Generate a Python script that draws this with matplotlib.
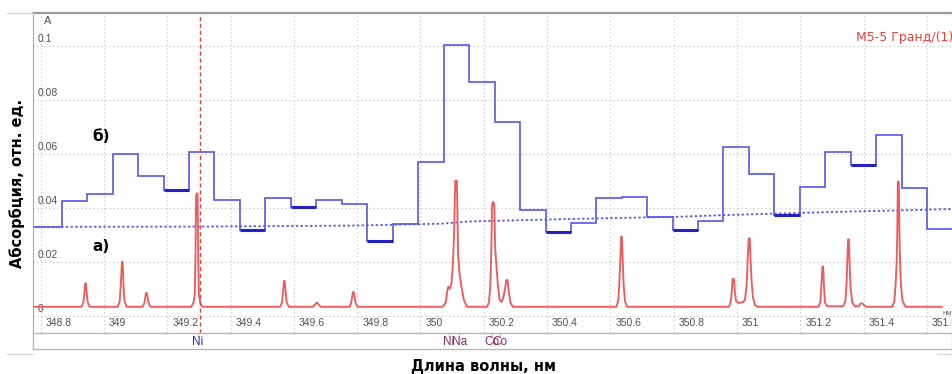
import numpy as np
import matplotlib
matplotlib.use("Agg")
import matplotlib.pyplot as plt
from matplotlib.transforms import ScaledTranslation
from matplotlib.lines import Line2D

# ---------------- data ----------------
# blue step spectrum (б): bin edges (nm) and bin values
bin_edges = [348.776, 348.867, 348.947, 349.028, 349.108, 349.189, 349.269, 349.349,
             349.430, 349.510, 349.591, 349.671, 349.751, 349.832, 349.912, 349.993,
             350.073, 350.153, 350.234, 350.314, 350.395, 350.475, 350.555, 350.636,
             350.716, 350.797, 350.877, 350.957, 351.038, 351.118, 351.199, 351.279,
             351.359, 351.440, 351.520, 351.601, 351.679]
bin_values = [0.0330, 0.0426, 0.0450, 0.0600, 0.0520, 0.0467, 0.0607, 0.0430,
              0.0320, 0.0437, 0.0404, 0.0430, 0.0415, 0.0278, 0.0340, 0.0570,
              0.1004, 0.0867, 0.0719, 0.0393, 0.0311, 0.0344, 0.0437, 0.0441,
              0.0367, 0.0319, 0.0352, 0.0626, 0.0526, 0.0374, 0.0478, 0.0607,
              0.0559, 0.0670, 0.0474, 0.0322]
# bins drawn emphasised (darker, thicker)
thick_bins = [5, 8, 10, 13, 20, 25, 29, 32]

# dotted blue baseline
base_wl = [348.776, 349.30, 349.80, 350.07, 350.15, 350.50, 350.80, 351.00, 351.30, 351.679]
base_abs = [0.0330, 0.0331, 0.0335, 0.0342, 0.0350, 0.0360, 0.0367, 0.0375, 0.0385, 0.0396]

# red high-resolution spectrum (а)
red_wl = [348.776,
          348.929, 348.935, 348.938, 348.941, 348.943, 348.946, 348.949, 348.955,
          349.044, 349.050, 349.053, 349.057, 349.059, 349.062, 349.065, 349.072,
          349.122, 349.128, 349.131, 349.133, 349.135, 349.138, 349.141, 349.147,
          349.276, 349.283, 349.287, 349.289, 349.291, 349.293, 349.296, 349.298, 349.300, 349.305, 349.312,
          349.557, 349.563, 349.566, 349.569, 349.571, 349.574, 349.577, 349.584,
          349.660, 349.667, 349.671, 349.674, 349.678, 349.685,
          349.776, 349.781, 349.784, 349.787, 349.789, 349.792, 349.795, 349.801,
          350.070, 350.080, 350.085, 350.088, 350.092, 350.098, 350.102, 350.106, 350.110, 350.115,
          350.119, 350.124, 350.130, 350.137, 350.147,
          350.210, 350.216, 350.220, 350.223, 350.226, 350.229, 350.233, 350.236, 350.240, 350.244,
          350.250, 350.256, 350.262, 350.267, 350.271, 350.275, 350.279, 350.284, 350.292,
          350.619, 350.625, 350.628, 350.631, 350.634, 350.636, 350.639, 350.642, 350.646, 350.653,
          350.974, 350.980, 350.983, 350.986, 350.990, 350.993, 350.997, 351.005, 351.012,
          351.018, 351.025, 351.030, 351.034, 351.037, 351.040, 351.043, 351.046, 351.050, 351.057, 351.065,
          351.257, 351.263, 351.266, 351.270, 351.272, 351.275, 351.278, 351.285,
          351.335, 351.342, 351.346, 351.349, 351.351, 351.353, 351.356, 351.359, 351.364, 351.372,
          351.384, 351.390, 351.396, 351.402, 351.410,
          351.490, 351.497, 351.501, 351.504, 351.506, 351.508, 351.511, 351.513, 351.515, 351.518, 351.523, 351.532,
          351.647]
red_abs = [0.0034,
           0.0034, 0.0050, 0.0080, 0.0121, 0.0121, 0.0080, 0.0050, 0.0034,
           0.0034, 0.0055, 0.0110, 0.0201, 0.0201, 0.0110, 0.0055, 0.0034,
           0.0034, 0.0048, 0.0070, 0.0086, 0.0086, 0.0070, 0.0048, 0.0034,
           0.0034, 0.0050, 0.0080, 0.0200, 0.0440, 0.0454, 0.0450, 0.0200, 0.0080, 0.0045, 0.0034,
           0.0034, 0.0052, 0.0090, 0.0130, 0.0130, 0.0090, 0.0052, 0.0034,
           0.0034, 0.0042, 0.0049, 0.0049, 0.0042, 0.0034,
           0.0034, 0.0048, 0.0070, 0.0089, 0.0089, 0.0070, 0.0048, 0.0034,
           0.0034, 0.0050, 0.0095, 0.0109, 0.0100, 0.0120, 0.0183, 0.0300, 0.0501, 0.0501,
           0.0226, 0.0150, 0.0105, 0.0060, 0.0034,
           0.0034, 0.0050, 0.0100, 0.0200, 0.0410, 0.0423, 0.0415, 0.0250, 0.0183, 0.0120,
           0.0060, 0.0052, 0.0070, 0.0100, 0.0133, 0.0133, 0.0090, 0.0050, 0.0034,
           0.0034, 0.0060, 0.0120, 0.0200, 0.0294, 0.0294, 0.0200, 0.0110, 0.0055, 0.0034,
           0.0034, 0.0050, 0.0090, 0.0137, 0.0137, 0.0090, 0.0055, 0.0048, 0.0050,
           0.0050, 0.0060, 0.0110, 0.0220, 0.0288, 0.0288, 0.0200, 0.0130, 0.0070, 0.0040, 0.0034,
           0.0034, 0.0050, 0.0110, 0.0183, 0.0183, 0.0100, 0.0050, 0.0036,
           0.0036, 0.0055, 0.0120, 0.0230, 0.0284, 0.0284, 0.0180, 0.0100, 0.0050, 0.0036,
           0.0036, 0.0046, 0.0047, 0.0038, 0.0034,
           0.0034, 0.0055, 0.0120, 0.0196, 0.0300, 0.0497, 0.0497, 0.0300, 0.0196, 0.0110, 0.0055, 0.0034,
           0.0034]

ni_line = 349.303

x_ticks = [348.8, 349.0, 349.2, 349.4, 349.6, 349.8, 350.0, 350.2, 350.4, 350.6,
           350.8, 351.0, 351.2, 351.4, 351.6]
x_tick_labels = ["348.8", "349", "349.2", "349.4", "349.6", "349.8", "350", "350.2",
                 "350.4", "350.6", "350.8", "351", "351.2", "351.4", "351.6"]
y_ticks = [0.0, 0.02, 0.04, 0.06, 0.08, 0.1]
y_tick_labels = ["0", "0.02", "0.04", "0.06", "0.08", "0.1"]

element_labels = ["Ni", "Ni", "Na", "Co", "Co"]
element_pos = [349.297, 350.090, 350.122, 350.226, 350.250]
element_colors = ["#2424c8", "#8a2a5a", "#8a2a5a", "#8a2a5a", "#8a2a5a"]

xlim = (348.776, 351.679)
ylim = (-0.0063, 0.1122)

# ---------------- figure ----------------
W, H = 953, 374
fig = plt.figure(figsize=(W / 100, H / 100), dpi=100)

def fx(px):
    return px / W

def fy(py):
    return 1 - py / H

ax = fig.add_axes([fx(33), fy(333), fx(952) - fx(33), fy(13) - fy(333)])
ax.set_xlim(*xlim)
ax.set_ylim(*ylim)

ax.grid(True, color="#c4c4c4", linestyle=(0, (1, 2.2)), linewidth=0.9)
ax.set_axisbelow(True)

# blue dotted baseline
ax.plot(base_wl, base_abs, color="#5a5ae0", linestyle=(0, (1.3, 1.3)), linewidth=1.3)
# blue steps
ax.stairs(bin_values, bin_edges, color="#5c5cec", linewidth=1.25, baseline=None)
ax.hlines([bin_values[i] for i in thick_bins],
          [bin_edges[i] for i in thick_bins],
          [bin_edges[i + 1] for i in thick_bins],
          color="#2323c4", linewidth=2.2)
# red spectrum
ax.plot(red_wl, red_abs, color="#ef5b5b", linewidth=1.35)
# red dashed marker line
ax.axvline(ni_line, color="#e64444", linestyle=(0, (3, 2)), linewidth=1.0)

# ticks inside
ax.set_xticks(x_ticks)
ax.set_xticklabels(x_tick_labels)
ax.set_yticks(y_ticks)
ax.set_yticklabels(y_tick_labels)
ax.tick_params(axis="x", length=0, pad=-11, labelsize=7.5, labelcolor="#505050")
ax.tick_params(axis="y", length=0, pad=-3.6, labelsize=7.5, labelcolor="#505050")
for lbl in ax.get_xticklabels():
    lbl.set_fontfamily("Liberation Sans")
    lbl.set_horizontalalignment("left")
    lbl.set_transform(lbl.get_transform() + ScaledTranslation(5 / 100, 0, fig.dpi_scale_trans))
for lbl in ax.get_yticklabels():
    lbl.set_fontfamily("Liberation Sans")
    lbl.set_horizontalalignment("left")
    lbl.set_verticalalignment("bottom")
    lbl.set_transform(lbl.get_transform() + ScaledTranslation(0, 2 / 100, fig.dpi_scale_trans))

ax.spines["top"].set_color("#9a9a9a")
ax.spines["top"].set_linewidth(1.6)
ax.spines["left"].set_color("#a8a8a8")
ax.spines["right"].set_color("#c8c8c8")
ax.spines["bottom"].set_color("#b8b8b8")

ax.text(0.012, 0.99, "A", transform=ax.transAxes, fontsize=8, color="#505050",
        family="Liberation Sans", ha="left", va="top")
ax.text(0.065, 0.615, "б)", transform=ax.transAxes, fontsize=11, fontweight="bold",
        family="DejaVu Sans", ha="left", va="center")
ax.text(0.065, 0.27, "а)", transform=ax.transAxes, fontsize=11, fontweight="bold",
        family="DejaVu Sans", ha="left", va="center")
fig.text(fx(856), fy(38), "M5-5 Гранд/(1)", fontsize=9, color="#e8403a",
         family="DejaVu Sans", ha="left", va="center")
ax.text(1.0, 0.06, "нм", transform=ax.transAxes, fontsize=5.5, color="#707070",
        family="Liberation Sans", ha="right", va="center")

# element strip
sx = fig.add_axes([fx(33), fy(349), fx(952) - fx(33), fy(333) - fy(349)])
sx.set_xlim(*xlim)
sx.set_ylim(0, 1)
sx.set_xticks([])
sx.set_yticks([])
for s in sx.spines.values():
    s.set_color("#b8b8b8")
    s.set_linewidth(1.0)
for lab, pos, col in zip(element_labels, element_pos, element_colors):
    sx.text(pos, 0.45, lab, color=col, fontsize=8.5, family="Liberation Sans",
            ha="center", va="center")
    sx.vlines(pos, 0.75, 1.0, color="#9a9a9a", linestyle=(0, (1, 1)), linewidth=0.8)

# faint outer frame stubs
for (x0, x1, y) in [(7, 33, 13), (7, 33, 354), (937, 953, 354)]:
    fig.add_artist(Line2D([fx(x0), fx(x1)], [fy(y), fy(y)], color="#d8d8d8", linewidth=1.0))

fig.text(fx(17), fy(183), "Абсорбция, отн. ед.", rotation=90, fontsize=10.5,
         fontweight="bold", family="DejaVu Sans", ha="center", va="center")
fig.text(fx(484), fy(366), "Длина волны, нм", fontsize=10.5, fontweight="bold",
         family="DejaVu Sans", ha="center", va="center")

fig.savefig("out.png", dpi=100)
